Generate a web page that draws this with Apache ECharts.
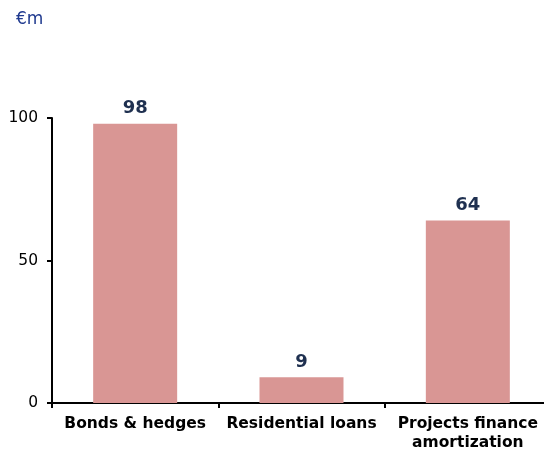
<!DOCTYPE html>
<html><head><meta charset="utf-8">
<script src="https://cdn.jsdelivr.net/npm/echarts@6/dist/echarts.min.js"></script>
<style>html,body{margin:0;padding:0;background:#fff;overflow:hidden;width:544px;height:453px}#c{width:551px;height:453px}</style>
</head><body><div id="c"></div>
<script>
const categories = ['Bonds & hedges', 'Residential loans', 'Projects finance\namortization'];
const values = [98, 9, 64];
const yTicks = [0, 50, 100];
const unitLabel = '€m';

const FONT = '"DejaVu Sans", Verdana, sans-serif';
const chart = echarts.init(document.getElementById('c'), null, {renderer: 'canvas'});
chart.setOption({
  animation: false,
  graphic: [{type: 'text', left: 16, top: 11, style: {text: unitLabel, fill: '#203A8F', font: '17px "DejaVu Sans", sans-serif'}}],
  grid: {left: 52, right: 0, top: 118, bottom: 50, containLabel: false},
  xAxis: {
    type: 'category', data: categories,
    axisLine: {lineStyle: {color: '#000', width: 2}},
    axisTick: {show: true, alignWithLabel: false, length: 5, lineStyle: {color: '#000', width: 2}},
    axisLabel: {color: '#000', fontWeight: 'bold', fontSize: 15.5, fontFamily: FONT, margin: 11, interval: 0, lineHeight: 19}
  },
  yAxis: {
    type: 'value', min: 0, max: 100, interval: 50,
    axisLine: {show: true, lineStyle: {color: '#000', width: 2}},
    axisTick: {show: true, length: 5, lineStyle: {color: '#000', width: 2}},
    splitLine: {show: false},
    axisLabel: {color: '#000', fontSize: 15.5, fontFamily: FONT, margin: 14,
      formatter: v => yTicks.includes(v) ? String(v) : ''}
  },
  series: [{
    type: 'bar', data: values, barWidth: '50.5%',
    itemStyle: {color: '#D99694'},
    label: {show: true, position: 'top', distance: 6, color: '#1F3050', fontWeight: 'bold', fontSize: 18, fontFamily: FONT}
  }]
});
</script></body></html>
